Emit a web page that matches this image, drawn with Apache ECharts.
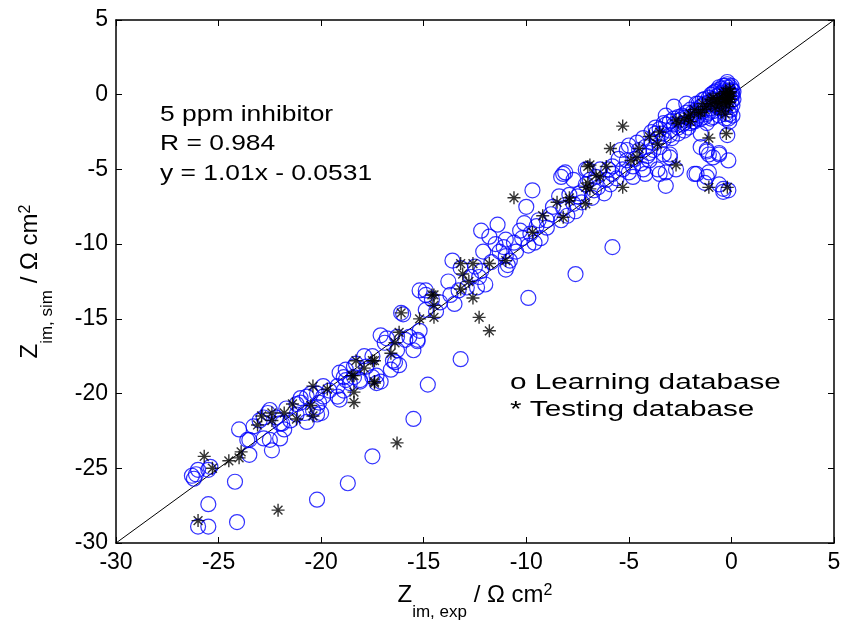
<!DOCTYPE html>
<html>
<head>
<meta charset="utf-8">
<script src="https://cdn.jsdelivr.net/npm/echarts@6/dist/echarts.min.js"></script>
<style>
  html, body { margin: 0; padding: 0; background: #fff; }
  #chart { width: 851px; height: 626px; }
</style>
</head>
<body>
<div id="chart"></div>
<script>
// axis range (same for both axes)
const axisMin = -30;
const axisMax = 5;
const tickStep = 5;

// y = x reference line, end points
const diagonal = [-30, 5];

// o Learning database  [Zim,exp, Zim,sim]
const learningPts = [
  // outliers below the band
  [-5.8, -10.2], [-7.6, -12.0], [-9.9, -13.6], [-13.2, -17.7], [-14.8, -19.4], [-15.5, -21.7],
  [-17.5, -24.2], [-18.7, -26.0], [-20.2, -27.1], [-24.2, -25.9], [-25.5, -27.4], [-24.1, -28.6],
  [-26.0, -28.9], [-25.5, -28.9],
  // lower-left band
  [-26.2, -25.7], [-26.1, -25.4], [-26.0, -25.1], [-25.5, -25.1], [-25.4, -24.9], [-26.3, -25.5],
  [-24.0, -22.4], [-23.5, -23.1], [-23.5, -24.1], [-22.8, -23.0], [-22.4, -23.8], [-22.0, -23.0],
  [-23.0, -21.8], [-22.6, -21.3], [-22.2, -21.6], [-21.9, -22.0], [-21.7, -21.0], [-21.2, -20.7],
  [-21.2, -21.4], [-20.8, -21.3], [-20.7, -21.9], [-20.2, -21.4], [-20.2, -20.9], [-19.9, -20.2],
  [-19.6, -19.8], [-19.9, -19.5], [-19.1, -20.4], [-18.9, -19.8], [-18.1, -19.2], [-17.1, -19.2],
  [-18.6, -19.3], [-23.3, -22.2], [-23.6, -23.1], [-22.5, -23.1], [-22.5, -21.1], [-22.8, -21.6],
  [-21.5, -21.8], [-22.0, -22.0], [-21.8, -22.4], [-20.4, -21.1], [-20.7, -20.2], [-21.0, -20.6],
  [-20.1, -20.6], [-19.2, -20.2], [-20.2, -20.0], [-20.0, -21.3],
  // middle band
  [-17.9, -17.5], [-18.3, -18.0], [-17.8, -18.2], [-17.5, -18.9], [-18.8, -18.4], [-18.9, -18.9],
  [-18.4, -18.9], [-18.1, -19.1], [-17.3, -19.3], [-17.1, -16.1], [-16.8, -16.3], [-16.3, -16.2],
  [-15.9, -16.4], [-15.5, -17.1], [-15.3, -16.5], [-16.4, -17.9], [-16.2, -18.1], [-16.6, -18.4],
  [-15.2, -13.1], [-16.1, -14.6], [-14.9, -13.1], [-14.6, -13.7], [-14.4, -14.5], [-14.9, -14.4],
  [-15.2, -15.8], [-15.3, -16.4], [-16.0, -14.7], [-16.9, -16.6], [-16.3, -17.1], [-15.7, -16.2],
  [-16.5, -17.8], [-17.5, -17.5], [-18.4, -18.2], [-19.1, -18.6], [-18.8, -19.1], [-17.3, -18.8],
  [-19.2, -19.5], [-20.5, -20.0], [-21.0, -20.3],
  [-13.6, -11.1], [-13.2, -11.6], [-12.7, -12.2], [-12.3, -12.2], [-12.0, -12.7], [-12.4, -12.9],
  [-12.9, -12.9], [-13.3, -13.1], [-13.7, -13.4], [-14.9, -13.4],
  [-13.8, -12.5], [-14.2, -13.9], [-13.5, -14.0], [-12.5, -11.5], [-12.2, -11.8],
  [-11.4, -8.7], [-12.2, -9.1], [-11.8, -9.5], [-12.1, -10.5], [-11.3, -10.5], [-11.0, -10.8],
  [-10.8, -11.1], [-11.0, -11.7], [-10.6, -9.9], [-11.0, -9.7], [-11.1, -10.2],
  [-11.7, -11.2], [-11.5, -10.0], [-10.5, -10.5], [-10.2, -9.6], [-10.9, -11.4], [-9.9, -10.1],
  [-8.1, -5.2], [-8.3, -5.5], [-9.7, -6.4], [-10.0, -7.5], [-7.0, -5.0], [-6.6, -5.5],
  [-7.1, -6.0], [-7.5, -6.8], [-7.9, -6.7], [-8.4, -6.8], [-8.7, -7.5], [-8.2, -7.6],
  [-7.7, -7.3], [-7.3, -7.2], [-8.3, -8.4], [-9.0, -8.4], [-9.4, -8.4], [-9.5, -8.8],
  [-10.1, -8.6], [-10.3, -9.1], [-9.8, -9.3], [-9.6, -9.9],
  [-9.3, -9.6], [-9.0, -8.9], [-8.8, -8.0], [-8.0, -8.1], [-7.6, -7.8],
  // upper-right band and spread
  [-6.5, -6.2], [-6.2, -6.6], [-5.9, -6.0], [-5.6, -5.6], [-5.3, -5.0], [-5.0, -5.2],
  [-4.7, -4.3], [-4.4, -4.6], [-4.1, -4.1], [-3.8, -3.7], [-3.5, -3.5], [-3.3, -3.0],
  [-6.8, -6.9], [-6.0, -5.0], [-5.5, -4.3], [-4.6, -3.2], [-4.3, -2.9], [-3.9, -2.5],
  [-3.7, -2.2], [-5.0, -3.4],
  [-3.2, -1.4], [-3.3, -1.9], [-3.5, -2.3], [-3.0, -2.7], [-2.3, -2.4], [-2.0, -1.9],
  [-1.5, -3.5], [-1.2, -3.8], [-0.9, -4.2], [-0.6, -3.9], [-0.15, -4.4], [-0.2, -2.7],
  [-1.5, -2.6], [-1.7, -5.3], [-1.2, -5.5], [-1.3, -5.9], [-0.4, -6.3], [-0.15, -6.4],
  [-0.6, -6.0], [-0.4, -6.5], [-3.2, -5.2], [-3.3, -4.0], [-3.0, -4.0], [-2.7, -5.0],
  [-3.2, -6.1], [-3.0, -4.2], [-3.5, -5.3], [-4.3, -5.0], [-1.1, -4.0], [-0.6, -4.0],
  [-1.2, -3.7], [-1.8, -5.3], [-1.1, -5.2],
  [-4.0, -4.4], [-3.6, -5.0], [-4.2, -5.3], [-4.8, -5.5], [-4.8, -4.8], [-5.1, -4.4],
  [-5.4, -3.7], [-5.1, -3.7], [-4.5, -3.7], [-5.8, -4.8], [-6.4, -5.0], [-7.1, -5.0],
  [-6.9, -5.7], [-7.7, -5.7], [-8.2, -5.3], [-7.4, -6.6], [-6.7, -6.4], [-6.1, -5.7],
  [-5.8, -5.3],
  [-2.8, -0.8], [-2.2, -0.6], [-1.7, -0.6], [-1.4, -0.35], [-0.9, 0.1], [-0.6, 0.5], [-0.2, 0.85],
  // dense cluster near the origin
  [-3.0, -2.4], [-2.8, -2.0], [-2.6, -2.2], [-2.5, -1.7], [-2.3, -1.9], [-2.2, -1.5],
  [-2.0, -1.6], [-1.9, -1.2], [-1.8, -1.8], [-1.7, -1.0], [-1.6, -1.4], [-1.5, -0.8],
  [-1.4, -1.1], [-1.3, -0.6], [-1.2, -1.3], [-1.1, -0.5], [-1.0, -0.9], [-0.9, -0.3],
  [-0.8, -0.7], [-0.7, -0.1], [-0.6, -0.5], [-0.5, 0.1], [-0.45, -0.9], [-0.4, -0.3],
  [-0.35, 0.3], [-0.3, -1.3], [-0.25, -0.1], [-0.2, 0.5], [-0.15, -0.6], [-0.1, 0.2],
  [-0.05, -1.0], [0.0, 0.6], [0.0, 0.0], [0.0, -0.4], [0.05, 0.3], [0.05, -1.4],
  [-0.1, -1.8], [-0.3, -1.6], [-0.6, -1.4], [-0.9, -1.5], [-1.2, -1.9], [-0.2, 0.7],
  [-0.4, 0.6], [-0.7, 0.3], [-1.0, 0.0], [-1.3, -0.3], [-1.6, -0.6], [-2.0, -1.0],
  [-2.4, -1.4], [-2.8, -1.6], [-3.2, -2.0], [-3.4, -2.6], [-3.6, -2.9], [-3.9, -3.2],
  [-3.7, -2.6], [-4.2, -3.5], [-4.0, -3.9],
  [-2.9, -2.9], [-2.6, -2.6], [-2.4, -2.0], [-2.1, -2.2], [-1.9, -1.8], [-1.7, -1.6],
  [-1.5, -1.6], [-1.3, -1.5], [-1.1, -1.2], [-0.9, -1.1], [-0.8, -0.4], [-0.6, 0.0],
  [-0.5, -0.4], [-0.4, -0.9], [-0.3, 0.6], [-0.25, 0.0], [-0.2, -0.4], [-0.15, 0.3],
  [-0.1, -1.3], [-0.05, 0.5], [0.05, 0.0], [0.05, -0.7], [0.1, -0.3], [0.1, 0.2],
  [-0.6, -0.9], [-1.0, -1.6], [-1.4, -0.7], [-1.8, -1.3], [-2.2, -1.2], [-2.6, -1.5],
  [-3.0, -1.8], [-0.8, 0.2], [-1.1, -0.2], [-0.3, -0.6], [-0.15, -1.6], [-0.5, 0.4]
];

// * Testing database
const testingPts = [
  [-26.0, -28.5], [-22.1, -27.8], [-25.7, -24.2], [-25.3, -25.0], [-24.5, -24.5], [-24.0, -24.3],
  [-23.9, -23.9], [-23.1, -22.1], [-22.9, -21.5], [-22.4, -21.3], [-22.4, -21.8], [-21.8, -21.3],
  [-21.4, -20.7], [-21.2, -21.7], [-20.4, -19.5], [-20.5, -20.8], [-20.4, -21.5], [-19.7, -19.7],
  [-18.4, -19.9], [-18.4, -20.6], [-17.4, -19.3],
  [-18.3, -17.8], [-17.5, -17.8], [-17.9, -18.3], [-18.4, -18.8], [-17.4, -19.2], [-16.3, -23.3],
  [-16.1, -14.6], [-16.2, -15.9], [-16.4, -16.6], [-16.6, -17.3], [-15.2, -15.0], [-14.6, -13.4],
  [-14.5, -14.1], [-14.5, -14.9], [-17.4, -17.8], [-18.5, -18.8],
  [-12.3, -14.9], [-11.8, -15.8], [-12.6, -13.6],
  [-10.6, -6.9], [-7.0, -4.8], [-7.0, -5.9], [-6.9, -6.3], [-6.6, -5.4], [-7.1, -7.3],
  [-7.9, -7.1], [-8.5, -7.2], [-8.2, -8.2], [-9.2, -8.1], [-9.7, -9.2], [-11.0, -11.1],
  [-11.8, -11.3], [-12.6, -11.3], [-13.2, -11.3], [-13.1, -12.0], [-12.8, -12.5], [-13.2, -13.0],
  [-14.5, -13.4],
  [-5.3, -2.1], [-5.9, -3.6], [-6.9, -4.7], [-6.1, -4.8], [-6.4, -5.5], [-5.3, -6.2],
  [-4.5, -3.6], [-4.0, -2.8], [-3.5, -2.5], [-4.6, -4.2], [-2.7, -4.7], [-1.1, -2.9],
  [-0.25, -2.6], [-0.3, -1.3], [-1.1, -6.2], [-0.2, -6.2], [-7.1, -6.2], [-7.9, -6.9],
  [-2.7, -1.7], [-2.0, -1.8], [-1.5, -1.2], [-3.6, -3.3], [-4.9, -4.4],
  [-0.1, 0.4], [-0.2, -0.2], [-0.4, -0.6], [-0.6, -0.2], [-0.8, -0.9], [-1.0, -0.6],
  [-0.15, -0.8], [-0.3, 0.2], [-1.3, -1.0], [-1.6, -1.2], [-2.0, -1.3], [-2.3, -1.6],
  [-0.05, -0.1], [-0.5, -1.1], [-2.6, -1.9],
  [-0.2, 0.0], [-0.1, -0.5], [-0.4, 0.1], [-0.7, -0.5], [-0.9, -0.2], [-1.2, -0.8],
  [-1.4, -0.6], [-1.8, -1.0], [-0.05, 0.2], [-0.3, -0.3], [-0.6, -0.7], [-2.1, -1.5],
  [-0.1, 0.1], [-0.25, -0.45], [-0.45, -0.2], [-0.7, -0.3], [-1.0, -0.3], [-0.05, -0.3]
];

const noteLines = ["5 ppm inhibitor", "R = 0.984", "y = 1.01x - 0.0531"];
const legendLines = ["o Learning database", "* Testing database"];

const FONT = "'Liberation Sans', Arial, sans-serif";
const starPath = "path://M5,0L5,10M0,5L10,5M1.6,1.6L8.4,8.4M1.6,8.4L8.4,1.6";

function frameAxis(pos, showLabels, extra) {
  return Object.assign({
    type: "value",
    position: pos,
    min: axisMin,
    max: axisMax,
    interval: tickStep,
    splitLine: { show: false },
    axisLine: { show: true, onZero: false, lineStyle: { color: "#000", width: 1.5 } },
    axisTick: { show: true, inside: true, length: 6, lineStyle: { color: "#000", width: 1 } },
    axisLabel: {
      show: showLabels,
      color: "#000",
      fontSize: 23,
      fontFamily: FONT,
      margin: 8
    }
  }, extra || {});
}

// main text sits at the top of a tall line, the subscript at its bottom
const titleRich = {
  z: { fontSize: 24, lineHeight: 27, fontFamily: FONT, color: "#000", verticalAlign: "top" },
  sub: { fontSize: 17, lineHeight: 38, fontFamily: FONT, color: "#000", verticalAlign: "bottom" },
  u: { fontSize: 24, lineHeight: 27, fontFamily: FONT, color: "#000", verticalAlign: "top" },
  sup: { fontSize: 16, lineHeight: 12, fontFamily: FONT, color: "#000", verticalAlign: "top" }
};

const chart = echarts.init(document.getElementById("chart"), null, { renderer: "canvas" });

chart.setOption({
  animation: false,
  backgroundColor: "#fff",
  grid: { left: 116, right: 17, top: 20, bottom: 83, containLabel: false, outerBoundsMode: "none" },
  xAxis: [
    frameAxis("bottom", true, {
      name: "{z|Z}{sub|im, exp}{u| / Ω cm}{sup|2}",
      nameLocation: "middle",
      nameGap: 40,
      nameTextStyle: { rich: titleRich }
    }),
    frameAxis("top", false)
  ],
  yAxis: [
    frameAxis("left", true, {
      name: "{z|Z}{sub|im, sim}{u| / Ω cm}{sup|2}",
      nameLocation: "middle",
      nameGap: 60,
      nameTextStyle: { rich: titleRich }
    }),
    frameAxis("right", false)
  ],
  series: [
    {
      type: "line",
      data: diagonal.map((v) => [v, v]),
      symbol: "none",
      lineStyle: { color: "#000", width: 1 },
      silent: true,
      z: 1
    },
    {
      type: "scatter",
      data: learningPts,
      symbol: "circle",
      symbolSize: 15,
      itemStyle: { color: "transparent", borderColor: "#0000ff", borderWidth: 1.2 },
      z: 2
    },
    {
      type: "scatter",
      data: testingPts,
      symbol: starPath,
      symbolSize: 13,
      itemStyle: { color: "transparent", borderColor: "#000", borderWidth: 1.4 },
      z: 3
    }
  ],
  graphic: [
    {
      type: "text",
      left: 160,
      top: 100,
      scaleX: 1.2,
      style: {
        text: noteLines.join("\n"),
        fontSize: 22,
        lineHeight: 29.5,
        fontFamily: FONT,
        fill: "#000"
      }
    },
    {
      type: "text",
      left: 510,
      top: 369,
      scaleX: 1.35,
      style: {
        text: legendLines.join("\n"),
        fontSize: 22,
        lineHeight: 27.5,
        fontFamily: FONT,
        fill: "#000"
      }
    }
  ]
});
</script>
</body>
</html>
